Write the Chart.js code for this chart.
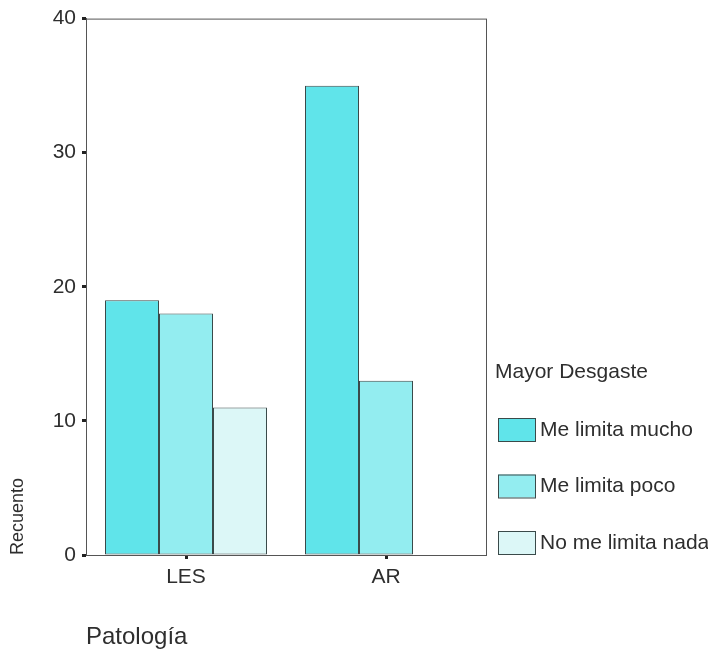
<!DOCTYPE html>
<html>
<head>
<meta charset="utf-8">
<script src="https://cdn.jsdelivr.net/npm/chart.js@4"></script>
<style>
  html, body { margin: 0; padding: 0; background: #fff; }
  #wrap { width: 708px; height: 656px; }
</style>
</head>
<body>
<div id="wrap"><canvas id="barChart" width="708" height="656"></canvas></div>
<script>
// --- DATA ---
const categories = ['LES', 'AR']
const seriesNames = ['Me limita mucho', 'Me limita poco', 'No me limita nada']
const muchoValues = [19, 35]
const pocoValues = [18, 13]
const nadaValues = [11, 0]
const yTicks = [0, 10, 20, 30, 40]

const barColors = ['#60e4ea', '#93edf0', '#dcf7f7']
const edgeColor = '#3a4a4a'
const textColor = '#2e2e2e'
const fontFamily = '"Liberation Sans", Arial, sans-serif'

// frame round the plot area
const framePlugin = {
    id: 'frame',
    afterDatasetsDraw(chart){
        const {ctx, chartArea} = chart
        ctx.save()
        ctx.strokeStyle = '#555'
        ctx.lineWidth = 1
        ctx.strokeRect(chartArea.left + 0.5, chartArea.top + 0.5, chartArea.right - chartArea.left, chartArea.bottom - chartArea.top)
        ctx.restore()
    }
}

// legend drawn at the lower right, like the original
const sideLegend = {
    id: 'sideLegend',
    afterDraw(chart){
        const {ctx} = chart
        ctx.save()
        ctx.fillStyle = textColor
        ctx.font = '21px ' + fontFamily
        ctx.textBaseline = 'middle'
        ctx.textAlign = 'left'
        ctx.fillText('Mayor Desgaste', 495, 372)

        chart.data.datasets.forEach((ds, i) => {
            const top = 418 + i * 56.5
            ctx.fillStyle = ds.backgroundColor
            ctx.fillRect(498, top, 37, 23)
            ctx.strokeStyle = edgeColor
            ctx.lineWidth = 1
            ctx.strokeRect(498.5, top + 0.5, 37, 23)
            ctx.fillStyle = textColor
            ctx.fillText(ds.label, 540, top + 12)
        })
        ctx.restore()
    }
}

function initChart(){
    const ctx = document.getElementById('barChart').getContext('2d')
    const valueSets = [muchoValues, pocoValues, nadaValues]

    new Chart(ctx, {
        type: 'bar',
        data: {
            labels: categories,
            datasets: seriesNames.map((name, i) => ({
                label: name,
                data: valueSets[i],
                backgroundColor: barColors[i],
                borderColor: edgeColor,
                borderWidth: 1,
                borderSkipped: false,
                categoryPercentage: 0.81,
                barPercentage: 1
            }))
        },
        options: {
            responsive: false,
            animation: false,
            layout: { padding: { top: 17, right: 222, left: 0, bottom: 0 } },
            plugins: {
                legend: { display: false },
                tooltip: { enabled: false }
            },
            scales: {
                x: {
                    grid: { display: true, offset: false, drawOnChartArea: false, tickLength: 4, tickWidth: 3, tickColor: '#222' },
                    border: { color: '#555', width: 1 },
                    ticks: { color: textColor, font: { family: fontFamily, size: 21 }, padding: 6 },
                    title: {
                        display: true,
                        text: 'Patología',
                        align: 'start',
                        color: textColor,
                        font: { family: fontFamily, size: 24 },
                        padding: { top: 0, bottom: 4 }
                    },
                    afterFit(scale){ scale.height = 101 }
                },
                y: {
                    min: 0,
                    max: 40,
                    afterBuildTicks(scale){ scale.ticks = yTicks.map(v => ({ value: v })) },
                    grid: { display: true, drawOnChartArea: false, tickLength: 4, tickWidth: 3, tickColor: '#222' },
                    border: { color: '#555', width: 1 },
                    ticks: { color: textColor, font: { family: fontFamily, size: 21 }, padding: 6 },
                    title: {
                        display: true,
                        text: 'Recuento',
                        align: 'start',
                        color: textColor,
                        font: { family: fontFamily, size: 18 },
                        padding: { top: 7, bottom: 0 }
                    },
                    afterFit(scale){ scale.width = 86 }
                }
            }
        },
        plugins: [framePlugin, sideLegend]
    })
}

initChart()
</script>
</body>
</html>
